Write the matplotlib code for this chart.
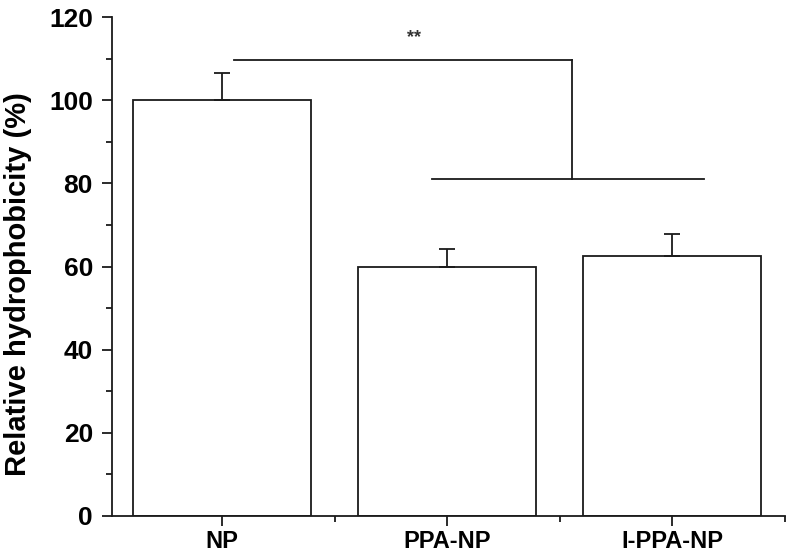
import matplotlib
matplotlib.use('Agg')
import matplotlib.pyplot as plt
from matplotlib.ticker import MultipleLocator, FixedLocator

plt.rcParams['font.family'] = ['Liberation Sans', 'DejaVu Sans']
plt.rcParams['font.weight'] = 'bold'

# data
groups = ['NP', 'PPA-NP', 'I-PPA-NP']
hydrophobicity = [100, 60, 62.5]
err = [6.5, 4.2, 5.3]

fig = plt.figure(figsize=(7.92, 5.56), dpi=100)
ax = fig.add_axes([0.1414, 0.072, 0.8496, 0.897])

x = range(len(groups))
ax.bar(x, hydrophobicity, width=0.79, color='white', edgecolor='#1a1a1a', linewidth=1.3)
ax.errorbar(x, hydrophobicity, yerr=[[0] * 3, err], fmt='none', ecolor='#1a1a1a',
            elinewidth=1.3, capsize=6, capthick=1.3)

# significance bracket
lc = '#1a1a1a'
ax.plot([0.05, 1.555], [109.6, 109.6], color=lc, lw=1.3)
ax.plot([1.555, 1.555], [109.6, 81], color=lc, lw=1.3)
ax.plot([0.93, 2.14], [81, 81], color=lc, lw=1.3)
ax.text(0.85, 115.2, '**', ha='center', va='center', fontsize=13, color='#333333')

ax.set_xlim(-0.49, 2.5)
ax.set_ylim(0, 120)
ax.set_xticks(list(x))
ax.set_xticklabels(groups, fontsize=17, fontweight='bold')
ax.xaxis.set_minor_locator(FixedLocator([-0.5, 0.5, 1.5, 2.5]))
ax.yaxis.set_major_locator(MultipleLocator(20))
ax.yaxis.set_minor_locator(MultipleLocator(10))
for lab in ax.get_yticklabels():
    lab.set_fontsize(19)
    lab.set_fontweight('bold')

ax.set_ylabel('Relative hydrophobicity (%)', fontsize=21, fontweight='bold')
ax.yaxis.set_label_coords(-0.119, 0.465)

ax.spines['top'].set_visible(False)
ax.spines['right'].set_visible(False)
for s in ['left', 'bottom']:
    ax.spines[s].set_linewidth(1.3)
    ax.spines[s].set_color('#1a1a1a')
ax.tick_params(which='major', length=7.2, width=1.3, color='#1a1a1a')
ax.tick_params(which='minor', length=4.3, width=1.3, color='#1a1a1a')
ax.tick_params(axis='y', which='major', pad=6.5)
ax.tick_params(axis='x', which='major', pad=3)

fig.savefig('out.png', dpi=100)
plt.close(fig)
